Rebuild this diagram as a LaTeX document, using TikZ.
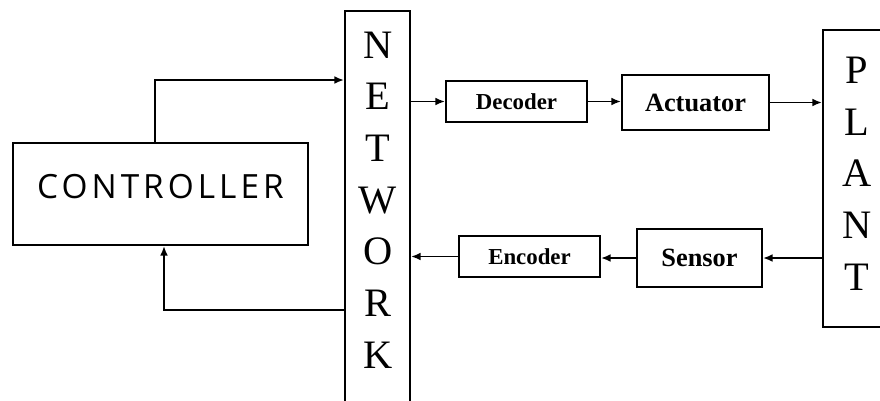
\documentclass[tikz,border=0pt]{standalone}
\usepackage{fontspec}
\setmainfont{Liberation Serif}
\newfontfamily\ctrlfont[LetterSpace=12]{Open Sans}
\usetikzlibrary{arrows.meta}

\begin{document}
\begin{tikzpicture}[x=0.02cm,y=-0.02cm,>={Latex[length=5.5pt,width=4.5pt]}]
\tikzstyle{blk}=[rectangle,draw,line width=1.1pt,inner sep=0pt]
\tikzstyle{small}=[blk,font=\fontsize{13}{15}\bfseries\selectfont]
\tikzstyle{big}=[blk,font=\fontsize{15}{17}\bfseries\selectfont]
\tikzstyle{vtext}=[align=center,font=\fontsize{23}{29.4}\selectfont]
\tikzstyle{link}=[->,line width=1.1pt]
\useasboundingbox (0,0) rectangle (880,400);
\clip (0,0) rectangle (880,400);
\node[blk,minimum width=5.9cm,minimum height=2.04cm,text height=0.64cm,text depth=0.48cm,font=\ctrlfont\fontsize{19}{21}\selectfont] (ctrl) at (160.5,194) {CONTROLLER};
\node[blk,minimum width=1.3cm,minimum height=8.6cm] (net) at (377.5,225.5) {};
\node[vtext] (netlbl) at (378,200) {N\\E\\T\\W\\O\\R\\K};
\node[small,minimum width=2.82cm,minimum height=0.82cm] (dec) at (516.5,101.5) {Decoder};
\node[big,minimum width=2.94cm,minimum height=1.1cm] (act) at (695.5,102.5) {Actuator};
\node[blk,minimum width=1.36cm,minimum height=5.94cm] (plant) at (857,178.5) {};
\node[vtext] (plantlbl) at (857,173.5) {P\\L\\A\\N\\T};
\node[big,minimum width=2.5cm,minimum height=1.16cm] (sen) at (699.5,258) {Sensor};
\node[small,minimum width=2.82cm,minimum height=0.82cm] (enc) at (529.5,256.5) {Encoder};
\draw[link] (ctrl.north -| 155,0) |- (net.west |- 0,80);
\draw[link] (net.west |- 0,310) -| (ctrl.south -| 164,0);
\draw[link] (net.east |- dec) -- (dec.west);
\draw[link] (dec.east) -- (dec.east -| act.west);
\draw[link] (act.east) -- (act.east -| plant.west);
\draw[link] (plant.west |- sen) -- (sen.east);
\draw[link] (sen.west) -- (sen.west -| enc.east);
\draw[link] (enc.west) -- (enc.west -| net.east);
\end{tikzpicture}
\end{document}
